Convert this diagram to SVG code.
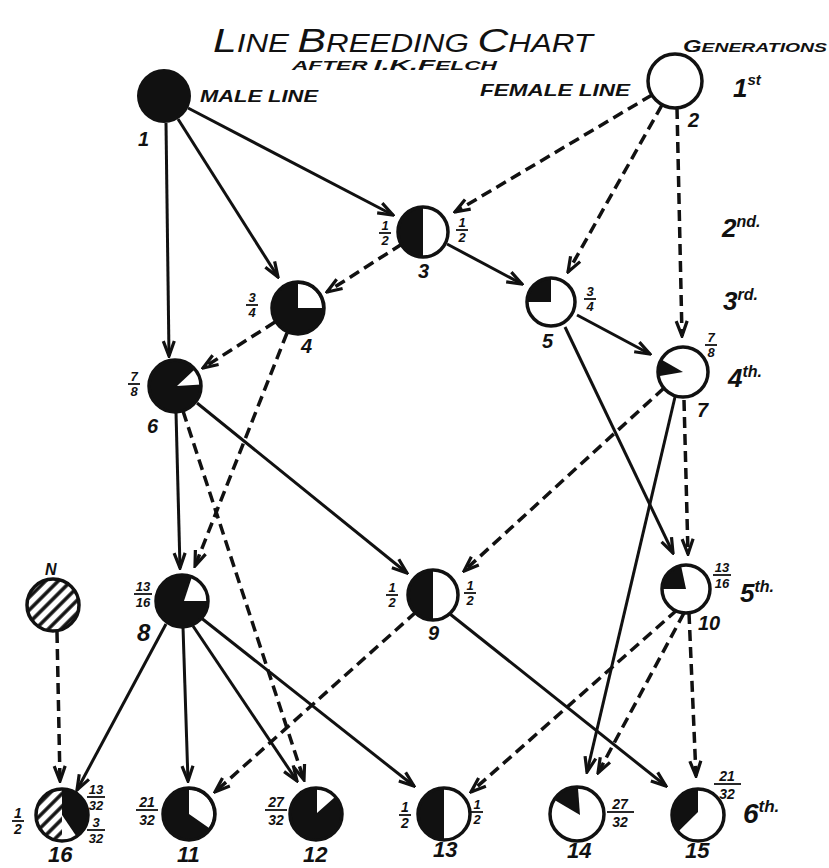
<svg xmlns="http://www.w3.org/2000/svg" width="829" height="868" viewBox="0 0 829 868">
<defs>
<style>
.t{font-family:"Liberation Sans",Arial,sans-serif;font-style:italic;fill:#111}
.lbl{font-size:20px;font-weight:bold}
.big{font-size:22px;font-weight:bold}
.g{font-weight:bold}
.fr{font-size:13px;font-weight:bold;text-anchor:middle}
.frb{font-size:14px;font-weight:bold;text-anchor:middle}
.bar{stroke:#111;stroke-width:1.8}
.ring{fill:none;stroke:#111;stroke-width:3.5}
.blk{fill:#111}
.wht{fill:#fff}
.e{fill:none;stroke:#111;stroke-width:3;marker-end:url(#ah)}
.d{stroke-dasharray:11 6;stroke-width:3.5}
.hat{fill:url(#hatch)}
</style>
<marker id="ah" markerUnits="userSpaceOnUse" viewBox="-17 -8 19 16" refX="0" refY="0" markerWidth="19" markerHeight="16" orient="auto">
<path d="M-15,-5.5 L0,0 L-15,5.5" fill="none" stroke="#111" stroke-width="3.2" stroke-dasharray="none"/>
</marker>
<pattern id="hatch" patternUnits="userSpaceOnUse" width="9" height="9" patternTransform="rotate(45)">
<rect width="9" height="9" fill="#fff"/>
<line x1="2" y1="-1" x2="2" y2="10" stroke="#111" stroke-width="3.5"/>
</pattern>
</defs>
<rect width="829" height="868" fill="#fff"/>

<g id="title">
<text class="t" x="213" y="52" textLength="380" lengthAdjust="spacingAndGlyphs"><tspan font-size="34">L</tspan><tspan font-size="25">INE </tspan><tspan font-size="34">B</tspan><tspan font-size="25">REEDING </tspan><tspan font-size="34">C</tspan><tspan font-size="25">HART</tspan></text>
<text class="t" x="292" y="70" font-weight="bold" textLength="205" lengthAdjust="spacingAndGlyphs"><tspan font-size="12">AFTER </tspan><tspan font-size="15">I.K.F</tspan><tspan font-size="12">ELCH</tspan></text>
<text class="t" x="683" y="52" font-weight="bold" textLength="144" lengthAdjust="spacingAndGlyphs"><tspan font-size="16">G</tspan><tspan font-size="13">ENERATIONS</tspan></text>
</g>

<g id="generations">
<text class="t g" x="733" y="97"><tspan font-size="26">1</tspan><tspan font-size="15" dy="-12">st</tspan></text>
<text class="t g" x="722" y="237"><tspan font-size="26">2</tspan><tspan font-size="16" dy="-10">nd.</tspan></text>
<text class="t g" x="723" y="310"><tspan font-size="26">3</tspan><tspan font-size="16" dy="-10">rd.</tspan></text>
<text class="t g" x="728" y="387"><tspan font-size="26">4</tspan><tspan font-size="16" dy="-10">th.</tspan></text>
<text class="t g" x="740" y="602"><tspan font-size="26">5</tspan><tspan font-size="16" dy="-10">th.</tspan></text>
<text class="t g" x="743" y="823"><tspan font-size="28">6</tspan><tspan font-size="17" dy="-11">th.</tspan></text>
</g>

<g id="connectors">
<path class="e" d="M166,123 L169,356"/>
<path class="e" d="M178,119 L278,277"/>
<path class="e" d="M188,108 L393,215"/>
<path class="e" d="M447,244 L522,284"/>
<path class="e" d="M577,315 L650,354"/>
<path class="e" d="M565,327 L673,553"/>
<path class="e" d="M176,412 L180,568"/>
<path class="e" d="M197,403 L407,573"/>
<path class="e" d="M675,397 L587,772"/>
<path class="e" d="M166,624 L77,790"/>
<path class="e" d="M183,627 L188,781"/>
<path class="e" d="M193,626 L297,781"/>
<path class="e" d="M200,617 L414,786"/>
<path class="e" d="M450,614 L666,786"/>
<path class="e d" d="M652,95 L455,212"/>
<path class="e d" d="M662,105 L568,272"/>
<path class="e d" d="M677,108 L682,336"/>
<path class="e d" d="M402,244 L327,292"/>
<path class="e d" d="M275,322 L203,368"/>
<path class="e d" d="M287,333 L195,566"/>
<path class="e d" d="M183,411 L304,780"/>
<path class="e d" d="M664,388 L464,571"/>
<path class="e d" d="M684,400 L688,554"/>
<path class="e d" d="M57,632 L60,781"/>
<path class="e d" d="M416,612 L215,792"/>
<path class="e d" d="M677,610 L471,792"/>
<path class="e d" d="M684,613 L598,773"/>
<path class="e d" d="M689,613 L696,776"/>
</g>

<g id="node-1">
<circle cx="164" cy="96" r="27" class="blk"/>
<text class="t" x="200" y="102" font-size="17" font-weight="bold" textLength="118" lengthAdjust="spacingAndGlyphs">MALE LINE</text>
<text class="t lbl" x="138" y="146">1</text>
</g>

<g id="node-2">
<circle cx="675" cy="81" r="27" class="wht"/>
<circle cx="675" cy="81" r="27" class="ring"/>
<text class="t" x="480" y="96" font-size="17" font-weight="bold" textLength="150" lengthAdjust="spacingAndGlyphs">FEMALE LINE</text>
<text class="t lbl" x="688" y="127">2</text>
</g>

<g id="node-3">
<circle cx="423" cy="232" r="25" class="wht"/>
<path class="blk" d="M423,207 A25,25 0 0 0 423,257 Z"/>
<circle cx="423" cy="232" r="25" class="ring"/>
<text class="t fr" x="385" y="230">1</text><line class="bar" x1="379" y1="233" x2="391" y2="233"/><text class="t fr" x="385" y="245">2</text>
<text class="t fr" x="462" y="227">1</text><line class="bar" x1="456" y1="230" x2="468" y2="230"/><text class="t fr" x="462" y="242">2</text>
<text class="t lbl" x="418" y="278">3</text>
</g>

<g id="node-4">
<circle cx="298" cy="308" r="26" class="blk"/>
<path class="wht" d="M298,308 L298,284 A24,24 0 0 1 322,308 Z"/>
<circle cx="298" cy="308" r="26" class="ring"/>
<text class="t fr" x="252" y="302">3</text><line class="bar" x1="246" y1="305" x2="258" y2="305"/><text class="t fr" x="252" y="317">4</text>
<text class="t lbl" x="301" y="353">4</text>
</g>

<g id="node-5">
<circle cx="551" cy="302" r="24" class="wht"/>
<path class="blk" d="M551,302 L527,302 A24,24 0 0 1 551,278 Z"/>
<circle cx="551" cy="302" r="24" class="ring"/>
<text class="t fr" x="590" y="296">3</text><line class="bar" x1="584" y1="299" x2="596" y2="299"/><text class="t fr" x="590" y="311">4</text>
<text class="t lbl" x="542" y="348">5</text>
</g>

<g id="node-6">
<circle cx="175" cy="386" r="26" class="blk"/>
<path class="wht" d="M177,386 L194.9,369.3 A26,26 0 0 1 201,384.6 Z"/>
<circle cx="175" cy="386" r="26" class="ring"/>
<text class="t fr" x="134" y="381">7</text><line class="bar" x1="128" y1="384" x2="140" y2="384"/><text class="t fr" x="134" y="396">8</text>
<text class="t lbl" x="147" y="433">6</text>
</g>

<g id="node-7">
<circle cx="683" cy="372" r="25" class="wht"/>
<path class="blk" d="M683,372 L658.4,376.3 A25,25 0 0 1 661.3,359.5 Z"/>
<circle cx="683" cy="372" r="25" class="ring"/>
<text class="t fr" x="711" y="342">7</text><line class="bar" x1="705" y1="345" x2="717" y2="345"/><text class="t fr" x="711" y="357">8</text>
<text class="t lbl" x="697" y="417">7</text>
</g>

<g id="node-8">
<circle cx="182" cy="601" r="26" class="blk"/>
<path class="wht" d="M184,601 L191.9,577 A26,26 0 0 1 208,601 Z"/>
<circle cx="182" cy="601" r="26" class="ring"/>
<text class="t fr" x="143" y="591">13</text><line class="bar" x1="134" y1="594" x2="152" y2="594"/><text class="t fr" x="143" y="607">16</text>
<text class="t" x="137" y="641" font-size="24" font-weight="bold">8</text>
</g>

<g id="node-9">
<circle cx="433" cy="595" r="25" class="wht"/>
<path class="blk" d="M433,570 A25,25 0 0 0 433,620 Z"/>
<circle cx="433" cy="595" r="25" class="ring"/>
<text class="t fr" x="392" y="592">1</text><line class="bar" x1="386" y1="595" x2="398" y2="595"/><text class="t fr" x="392" y="607">2</text>
<text class="t fr" x="470" y="590">1</text><line class="bar" x1="464" y1="593" x2="476" y2="593"/><text class="t fr" x="470" y="605">2</text>
<text class="t lbl" x="428" y="640">9</text>
</g>

<g id="node-10">
<circle cx="686" cy="589" r="24" class="wht"/>
<path class="blk" d="M686,589 L662,589 A24,24 0 0 1 681,565.5 Z"/>
<circle cx="686" cy="589" r="24" class="ring"/>
<text class="t fr" x="722" y="572">13</text><line class="bar" x1="713" y1="575" x2="731" y2="575"/><text class="t fr" x="722" y="588">16</text>
<text class="t lbl" x="698" y="630">10</text>
</g>

<g id="node-N">
<circle cx="53" cy="605" r="26" class="hat"/>
<circle cx="53" cy="605" r="26" class="ring"/>
<text class="t" x="45" y="575" font-size="16" font-weight="bold">N</text>
</g>

<g id="node-16">
<circle cx="62" cy="815" r="26" class="hat"/>
<path class="blk" d="M62,789 A26,26 0 0 1 62,841 Z"/>
<path class="wht" d="M62,815 L76.5,836.6 A26,26 0 0 1 62,841 Z"/>
<circle cx="62" cy="815" r="26" class="ring"/>
<text class="t frb" x="18" y="818">1</text><line class="bar" x1="12" y1="821" x2="24" y2="821"/><text class="t frb" x="18" y="834">2</text>
<text class="t fr" x="96" y="794">13</text><line class="bar" x1="87" y1="797" x2="105" y2="797"/><text class="t fr" x="96" y="810">32</text>
<text class="t fr" x="96" y="827">3</text><line class="bar" x1="87" y1="830" x2="105" y2="830"/><text class="t fr" x="96" y="843">32</text>
<text class="t big" x="48" y="862" font-size="20">16</text>
</g>

<g id="node-11">
<circle cx="189" cy="814" r="26" class="blk"/>
<path class="wht" d="M189,814 L189,790 A24,24 0 0 1 208.7,827.8 Z"/>
<circle cx="189" cy="814" r="26" class="ring"/>
<text class="t frb" x="147" y="807">21</text><line class="bar" x1="136" y1="810" x2="158" y2="810"/><text class="t frb" x="147" y="825">32</text>
<text class="t big" x="177" y="862">11</text>
</g>

<g id="node-12">
<circle cx="316" cy="814" r="26" class="blk"/>
<path class="wht" d="M317,813 L317,789 A25,25 0 0 1 335,797 Z"/>
<circle cx="316" cy="814" r="26" class="ring"/>
<text class="t frb" x="276" y="807">27</text><line class="bar" x1="265" y1="810" x2="287" y2="810"/><text class="t frb" x="276" y="825">32</text>
<text class="t big" x="303" y="862">12</text>
</g>

<g id="node-13">
<circle cx="444" cy="814" r="26" class="wht"/>
<path class="blk" d="M444,788 A26,26 0 0 0 444,840 Z"/>
<circle cx="444" cy="814" r="26" class="ring"/>
<text class="t frb" x="405" y="812">1</text><line class="bar" x1="399" y1="815" x2="411" y2="815"/><text class="t frb" x="405" y="828">2</text>
<text class="t fr" x="477" y="809">1</text><line class="bar" x1="471" y1="812" x2="483" y2="812"/><text class="t fr" x="477" y="824">2</text>
<text class="t big" x="433" y="857">13</text>
</g>

<g id="node-14">
<circle cx="577" cy="814" r="27" class="wht"/>
<path class="blk" d="M580,815 L554.1,799.7 A27,27 0 0 1 577.9,787 Z"/>
<circle cx="577" cy="814" r="27" class="ring"/>
<text class="t frb" x="620" y="809">27</text><line class="bar" x1="607" y1="812" x2="634" y2="812"/><text class="t frb" x="620" y="827">32</text>
<text class="t big" x="567" y="858">14</text>
</g>

<g id="node-15">
<circle cx="698" cy="815" r="26" class="wht"/>
<path class="blk" d="M698,812 L678.1,831.7 A26,26 0 0 1 698,789 Z"/>
<circle cx="698" cy="815" r="26" class="ring"/>
<text class="t frb" x="727" y="781">21</text><line class="bar" x1="714" y1="784" x2="741" y2="784"/><text class="t frb" x="727" y="799">32</text>
<text class="t big" x="685" y="858">15</text>
</g>
</svg>
